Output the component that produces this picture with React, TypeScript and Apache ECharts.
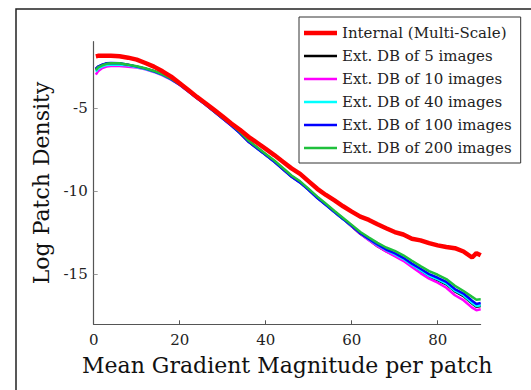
import React, { useEffect, useRef } from "react";
import * as echarts from "echarts";

const xs = [0.5, 1, 2, 3, 4, 6, 8, 10, 12, 14, 16, 18, 20, 22, 24, 26, 28, 30, 32, 34, 36, 38, 40, 42, 44, 46, 48, 50, 52, 54, 56, 58, 60, 62, 64, 66, 68, 70, 72, 74, 76, 78, 80, 82, 84, 86, 88, 89, 90];

const internalMS = [-1.88, -1.85, -1.84, -1.84, -1.85, -1.88, -1.96, -2.08, -2.28, -2.5, -2.78, -3.1, -3.5, -3.9, -4.32, -4.7, -5.1, -5.5, -5.92, -6.3, -6.72, -7.08, -7.45, -7.82, -8.22, -8.62, -8.95, -9.4, -9.85, -10.22, -10.55, -10.9, -11.22, -11.52, -11.72, -11.98, -12.22, -12.45, -12.6, -12.85, -12.95, -13.12, -13.25, -13.35, -13.42, -13.62, -13.98, -13.72, -13.85];

const ext5 = [-2.65, -2.52, -2.4, -2.32, -2.3, -2.32, -2.4, -2.5, -2.62, -2.78, -2.98, -3.24, -3.57, -3.97, -4.37, -4.77, -5.18, -5.6, -6.02, -6.48, -7.0, -7.4, -7.8, -8.2, -8.66, -9.1, -9.46, -9.9, -10.38, -10.8, -11.24, -11.66, -12.1, -12.55, -12.92, -13.3, -13.6, -13.85, -14.1, -14.45, -14.8, -15.12, -15.35, -15.6, -16.02, -16.3, -16.75, -16.95, -16.9];

const ext10 = [-2.98, -2.78, -2.58, -2.5, -2.46, -2.46, -2.5, -2.56, -2.66, -2.82, -3.02, -3.28, -3.6, -4.0, -4.4, -4.8, -5.2, -5.62, -6.04, -6.48, -7.0, -7.4, -7.8, -8.2, -8.66, -9.1, -9.46, -9.9, -10.38, -10.8, -11.24, -11.66, -12.1, -12.55, -12.94, -13.3, -13.62, -13.9, -14.18, -14.55, -14.92, -15.25, -15.5, -15.8, -16.25, -16.55, -17.0, -17.15, -17.1];

const ext40 = [-2.8, -2.62, -2.48, -2.4, -2.38, -2.38, -2.42, -2.52, -2.64, -2.8, -3.0, -3.26, -3.58, -3.98, -4.38, -4.78, -5.2, -5.6, -6.02, -6.46, -6.98, -7.4, -7.8, -8.2, -8.65, -9.1, -9.46, -9.9, -10.38, -10.8, -11.24, -11.66, -12.08, -12.5, -12.88, -13.22, -13.52, -13.78, -14.06, -14.42, -14.75, -15.08, -15.3, -15.55, -15.98, -16.25, -16.7, -16.9, -16.85];

const ext100 = [-2.62, -2.5, -2.38, -2.3, -2.28, -2.3, -2.38, -2.5, -2.62, -2.78, -2.98, -3.25, -3.58, -3.98, -4.38, -4.78, -5.2, -5.62, -6.04, -6.5, -7.02, -7.42, -7.82, -8.22, -8.68, -9.12, -9.48, -9.92, -10.4, -10.82, -11.25, -11.66, -12.08, -12.52, -12.86, -13.2, -13.5, -13.72, -14.0, -14.35, -14.66, -14.98, -15.2, -15.45, -15.88, -16.15, -16.58, -16.78, -16.72];

const ext200 = [-2.72, -2.55, -2.42, -2.33, -2.3, -2.3, -2.38, -2.48, -2.6, -2.76, -2.96, -3.22, -3.55, -3.95, -4.35, -4.75, -5.15, -5.58, -5.98, -6.42, -6.95, -7.35, -7.75, -8.15, -8.6, -9.05, -9.4, -9.85, -10.32, -10.75, -11.18, -11.6, -12.02, -12.45, -12.78, -13.1, -13.38, -13.58, -13.85, -14.18, -14.5, -14.8, -15.02, -15.28, -15.68, -16.0, -16.35, -16.52, -16.5];

const seriesNames = [
  "Internal (Multi-Scale)",
  "Ext. DB of 5 images",
  "Ext. DB of 10 images",
  "Ext. DB of 40 images",
  "Ext. DB of 100 images",
  "Ext. DB of 200 images",
];
const seriesValues = [internalMS, ext5, ext10, ext40, ext100, ext200];
const seriesColors = ["#ff0000", "#000000", "#ff00ff", "#00ffff", "#0000ff", "#1fc03c"];
const seriesWidths = [4.5, 2.5, 2.5, 2.5, 2.5, 2.5];
const legendIcons = [
  "path://M0,0 H33 V4.5 H0 Z",
  "path://M0,0 H33 V2.5 H0 Z",
  "path://M0,0 H33 V2.5 H0 Z",
  "path://M0,0 H33 V2.5 H0 Z",
  "path://M0,0 H33 V2.5 H0 Z",
  "path://M0,0 H33 V2.5 H0 Z",
];
const seriesZ = [10, 2, 3, 4, 5, 6];

const yTicks = [-15, -10, -5];
const xTicks = [0, 20, 40, 60, 80];

const FONT = "DejaVu Serif";

export default function App() {
  const ref = useRef<HTMLDivElement>(null);
  useEffect(() => {
    if (!ref.current) return;
    const chart = echarts.init(ref.current, null, { renderer: "svg" });
    const series = seriesNames.map((name, i) => ({
      name,
      type: "line",
      data: xs.map((x, j) => [x, seriesValues[i][j]]),
      symbol: "none",
      showSymbol: false,
      smooth: false,
      z: seriesZ[i],
      lineStyle: { color: seriesColors[i], width: seriesWidths[i] },
      itemStyle: { color: seriesColors[i] },
    }));
    chart.setOption({
      animation: false,
      backgroundColor: "#ffffff",
      textStyle: { fontFamily: FONT },
      grid: { left: 93.7, top: 41.7, right: 50.3, bottom: 65.7, containLabel: false },
      legend: {
        orient: "vertical",
        left: 299,
        top: 17,
        data: seriesNames.map((n, i) => ({
          name: n,
          icon: legendIcons[i],
          itemStyle: { color: seriesColors[i], borderWidth: 0 },
        })),
        itemWidth: 33,
        itemHeight: 14,
        itemGap: 7,
        symbolKeepAspect: true,
        padding: [8, 9, 7, 5],
        borderColor: "#333",
        borderWidth: 1,
        backgroundColor: "#ffffff",
        textStyle: { fontFamily: FONT, fontSize: 15, color: "#222", lineHeight: 16 },
      },
      xAxis: {
        type: "value",
        min: 0,
        max: 90,
        interval: 20,
        name: "Mean Gradient Magnitude per patch",
        nameLocation: "middle",
        nameGap: 30,
        nameTextStyle: { fontFamily: FONT, fontSize: 22, color: "#111" },
        axisLine: { show: true, onZero: false, lineStyle: { color: "#555", width: 1 } },
        axisTick: { show: true, inside: true, length: 4, customValues: xTicks, lineStyle: { color: "#555" } },
        axisLabel: { customValues: xTicks, margin: 8, fontFamily: FONT, fontSize: 15, color: "#222" },
        splitLine: { show: false },
      },
      yAxis: {
        type: "value",
        min: -18,
        max: -1,
        name: "Log Patch Density",
        nameLocation: "middle",
        nameRotate: 90,
        nameGap: 40,
        nameTextStyle: { fontFamily: FONT, fontSize: 22, color: "#111" },
        axisLine: { show: true, onZero: false, lineStyle: { color: "#555", width: 1.2 } },
        axisTick: { show: true, inside: true, length: 4, customValues: yTicks, lineStyle: { color: "#999" } },
        axisLabel: { customValues: yTicks, margin: 6, fontFamily: FONT, fontSize: 15, color: "#222" },
        splitLine: { show: false },
      },
      graphic: [
        {
          type: "rect",
          left: 13.5,
          top: 6.5,
          shape: { x: 0, y: 0, width: 600, height: 500 },
          style: { fill: "none", stroke: "#222", lineWidth: 1.5 },
          silent: true,
        },
      ],
      series,
    });
    return () => chart.dispose();
  }, []);
  return (
    <div
      ref={ref}
      style={{ position: "absolute", left: 0, top: 0, width: 531, height: 390 }}
    />
  );
}
